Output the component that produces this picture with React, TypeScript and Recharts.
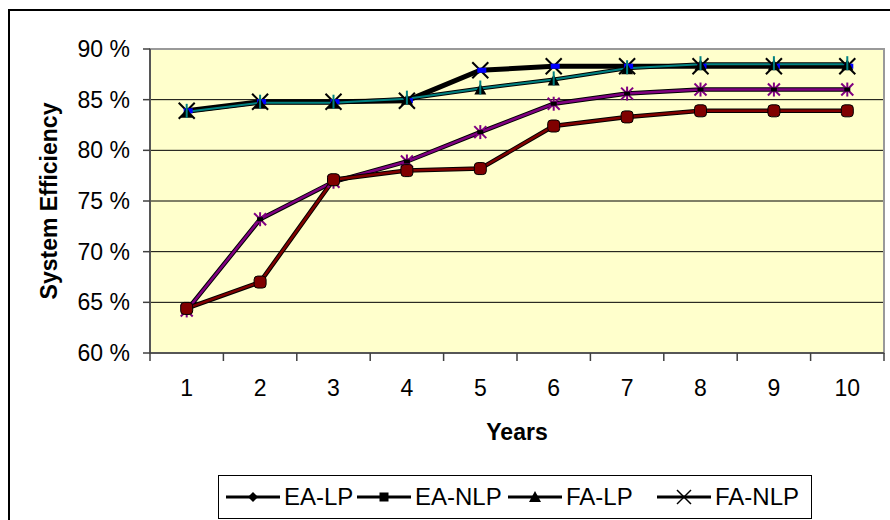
import React from 'react';
import { LineChart, Line, XAxis, YAxis, CartesianGrid, Legend, ReferenceArea } from 'recharts';

const years = ['1', '2', '3', '4', '5', '6', '7', '8', '9', '10'];
const eaLp = [64.2, 73.2, 76.9, 78.9, 81.8, 84.6, 85.6, 86.0, 86.0, 86.0];
const eaNlp = [64.4, 67.0, 77.1, 78.0, 78.2, 82.4, 83.3, 83.9, 83.9, 83.9];
const faLp = [83.8, 84.7, 84.7, 85.1, 86.1, 87.0, 88.1, 88.5, 88.5, 88.5];
const faNlp = [83.9, 84.8, 84.8, 84.9, 87.9, 88.3, 88.3, 88.3, 88.3, 88.3];
const yTicks = [60, 65, 70, 75, 80, 85, 90];
const gridValues = [65, 70, 75, 80, 85];
const seriesNames = ['EA-LP', 'EA-NLP', 'FA-LP', 'FA-NLP'];

const data = years.map((y, i) => ({
  year: y,
  eaLp: eaLp[i],
  eaNlp: eaNlp[i],
  faLp: faLp[i],
  faNlp: faNlp[i],
}));

const FONT = 'Arial, "Liberation Sans", sans-serif';
const AXIS = '#404040';
const X_TICK_SIZE = 8;
const X_TICK_MARGIN = 19;
const LEGEND_ITEM_LEFT = [8, 139, 290, 439];

const XTick = (props: any) => {
  const { x, y, payload, index, visibleTicksCount } = props;
  const off = payload && typeof payload.offset === 'number' ? payload.offset : 0;
  const ay = y - X_TICK_SIZE - X_TICK_MARGIN;
  return (
    <g>
      <line x1={x - off} x2={x - off} y1={ay} y2={ay + X_TICK_SIZE} stroke={AXIS} strokeWidth={1.5} />
      {index === visibleTicksCount - 1 && (
        <line x1={x + off} x2={x + off} y1={ay} y2={ay + X_TICK_SIZE} stroke={AXIS} strokeWidth={1.5} />
      )}
      <text x={x} y={y} dy="0.71em" textAnchor="middle" fontSize={23} fontFamily={FONT} fill="#000">
        {payload.value}
      </text>
    </g>
  );
};

const PurpleDot = (p: any) => {
  const { cx, cy, index } = p;
  if (cx == null || cy == null) return <g key={`pd${index}`} />;
  return (
    <g key={`pd${index}`}>
      <line x1={cx - 6} y1={cy - 6} x2={cx + 6} y2={cy + 6} stroke="#800080" strokeWidth={2} />
      <line x1={cx - 6} y1={cy + 6} x2={cx + 6} y2={cy - 6} stroke="#800080" strokeWidth={2} />
      <line x1={cx} y1={cy - 7} x2={cx} y2={cy + 7} stroke="#800080" strokeWidth={2} />
      <rect x={cx - 3} y={cy - 2} width={6} height={4} fill="#000" />
    </g>
  );
};

const RedDot = (p: any) => {
  const { cx, cy, index } = p;
  if (cx == null || cy == null) return <g key={`rd${index}`} />;
  return (
    <rect key={`rd${index}`} x={cx - 6} y={cy - 6} width={12} height={12} rx={3.5} fill="#800000" stroke="#000" strokeWidth={1} />
  );
};

const TealDot = (p: any) => {
  const { cx, cy, index } = p;
  if (cx == null || cy == null) return <g key={`td${index}`} />;
  return (
    <g key={`td${index}`}>
      <polygon points={`${cx - 6},${cy + 6} ${cx + 6},${cy + 6} ${cx},${cy - 5}`} fill="#000" />
      <line x1={cx} y1={cy - 8} x2={cx} y2={cy + 6} stroke="#008080" strokeWidth={2} />
    </g>
  );
};

const BlackDot = (p: any) => {
  const { cx, cy, index } = p;
  if (cx == null || cy == null) return <g key={`bd${index}`} />;
  return (
    <g key={`bd${index}`}>
      <line x1={cx - 8} y1={cy - 8} x2={cx + 8} y2={cy + 8} stroke="#000" strokeWidth={2} />
      <line x1={cx - 8} y1={cy + 8} x2={cx + 8} y2={cy - 8} stroke="#000" strokeWidth={2} />
      <rect x={cx - 3} y={cy - 2.5} width={9} height={5} fill="#0000FF" />
    </g>
  );
};

const legendMarker = (i: number) => {
  const cx = 27;
  const cy = 10;
  if (i === 0) return <polygon points={`${cx},${cy - 5} ${cx + 5},${cy} ${cx},${cy + 5} ${cx - 5},${cy}`} fill="#000" />;
  if (i === 1) return <rect x={cx - 4.5} y={cy - 4.5} width={9} height={9} fill="#000" />;
  if (i === 2) return <polygon points={`${cx - 6},${cy + 5} ${cx + 6},${cy + 5} ${cx},${cy - 6}`} fill="#000" />;
  return (
    <g>
      <line x1={cx - 7} y1={cy - 7} x2={cx + 7} y2={cy + 7} stroke="#000" strokeWidth={1.5} />
      <line x1={cx - 7} y1={cy + 7} x2={cx + 7} y2={cy - 7} stroke="#000" strokeWidth={1.5} />
    </g>
  );
};

const LegendContent = () => (
  <div
    style={{
      position: 'relative',
      width: 594,
      height: 44,
      boxSizing: 'border-box',
      border: '1px solid #000',
      background: '#fff',
      fontFamily: FONT,
      fontSize: 24,
      color: '#000',
    }}
  >
    {seriesNames.map((n, i) => (
      <div
        key={n}
        style={{ position: 'absolute', left: LEGEND_ITEM_LEFT[i] - 1, top: 0, height: 42, display: 'flex', alignItems: 'center', whiteSpace: 'nowrap' }}
      >
        <svg width={54} height={20} style={{ display: 'block' }}>
          <line x1={0} x2={54} y1={10} y2={10} stroke="#000" strokeWidth={3} />
          {legendMarker(i)}
        </svg>
        <span style={{ marginLeft: 4, lineHeight: '24px' }}>{n}</span>
      </div>
    ))}
  </div>
);

export default function App() {
  return (
    <div style={{ position: 'absolute', left: 0, top: 0, width: 890, height: 520, background: '#fff', overflow: 'hidden' }}>
      <div
        style={{
          position: 'absolute',
          left: 8,
          top: 9,
          width: 900,
          height: 520,
          borderLeft: '2px solid #000',
          borderTop: '2px solid #000',
        }}
      />
      <div style={{ position: 'absolute', left: 0, top: 0 }}>
        <LineChart width={890} height={520} data={data} margin={{ top: 49, right: 6, left: 0, bottom: 72 }}>
          <CartesianGrid vertical={false} stroke="#000" fill="#FFFFCC" fillOpacity={1} horizontalValues={gridValues} />
          <ReferenceArea x1="1" x2="10" y1={60} y2={90} fill="none" stroke="#999" strokeWidth={2} ifOverflow="visible" />
          <XAxis
            dataKey="year"
            type="category"
            scale="band"
            height={95}
            tickLine={false}
            tickSize={X_TICK_SIZE}
            tickMargin={X_TICK_MARGIN}
            axisLine={{ stroke: AXIS, strokeWidth: 1.5 }}
            tick={<XTick />}
            interval={0}
            label={{ value: 'Years', position: 'insideBottom', offset: 8, fontSize: 23, fontWeight: 'bold', fontFamily: FONT, fill: '#000' }}
          />
          <YAxis
            width={150}
            domain={[60, 90]}
            ticks={yTicks}
            interval={0}
            tickSize={7}
            tickMargin={13}
            tickFormatter={(v: number) => `${v} %`}
            tick={{ fontSize: 23, fontFamily: FONT, fill: '#000' }}
            tickLine={{ stroke: AXIS, strokeWidth: 1.5 }}
            axisLine={{ stroke: AXIS, strokeWidth: 1.5 }}
            label={{
              value: 'System Efficiency',
              content: ({ viewBox }: any) => {
                const cx = (viewBox?.x ?? 0) + 57;
                const cy = (viewBox?.y ?? 0) + (viewBox?.height ?? 0) / 2;
                return (
                  <text x={cx} y={cy} transform={`rotate(-90 ${cx} ${cy})`} textAnchor="middle" fontSize={23} fontWeight="bold" fontFamily={FONT} fill="#000">
                    System Efficiency
                  </text>
                );
              },
            }}
          />
          <Legend
            layout="horizontal"
            verticalAlign="middle"
            align="center"
            wrapperStyle={{ position: 'absolute', left: 218, top: 475, width: 594, height: 44 }}
            content={<LegendContent />}
          />
          <Line dataKey="eaLp" name="EA-LP-shadow" stroke="#000" strokeWidth={4.5} dot={false} activeDot={false} isAnimationActive={false} legendType="none" />
          <Line dataKey="eaLp" name="EA-LP" stroke="#800080" strokeWidth={2.5} dot={<PurpleDot />} activeDot={false} isAnimationActive={false} />
          <Line dataKey="eaNlp" name="EA-NLP-shadow" stroke="#000" strokeWidth={4.5} dot={false} activeDot={false} isAnimationActive={false} legendType="none" />
          <Line dataKey="eaNlp" name="EA-NLP" stroke="#800000" strokeWidth={2.5} dot={<RedDot />} activeDot={false} isAnimationActive={false} />
          <Line dataKey="faNlp" name="FA-NLP" stroke="#000" strokeWidth={5} dot={<BlackDot />} activeDot={false} isAnimationActive={false} />
          <Line dataKey="faLp" name="FA-LP-shadow" stroke="#000" strokeWidth={4} dot={false} activeDot={false} isAnimationActive={false} legendType="none" />
          <Line dataKey="faLp" name="FA-LP" stroke="#008080" strokeWidth={2} dot={<TealDot />} activeDot={false} isAnimationActive={false} />
        </LineChart>
      </div>
    </div>
  );
}
